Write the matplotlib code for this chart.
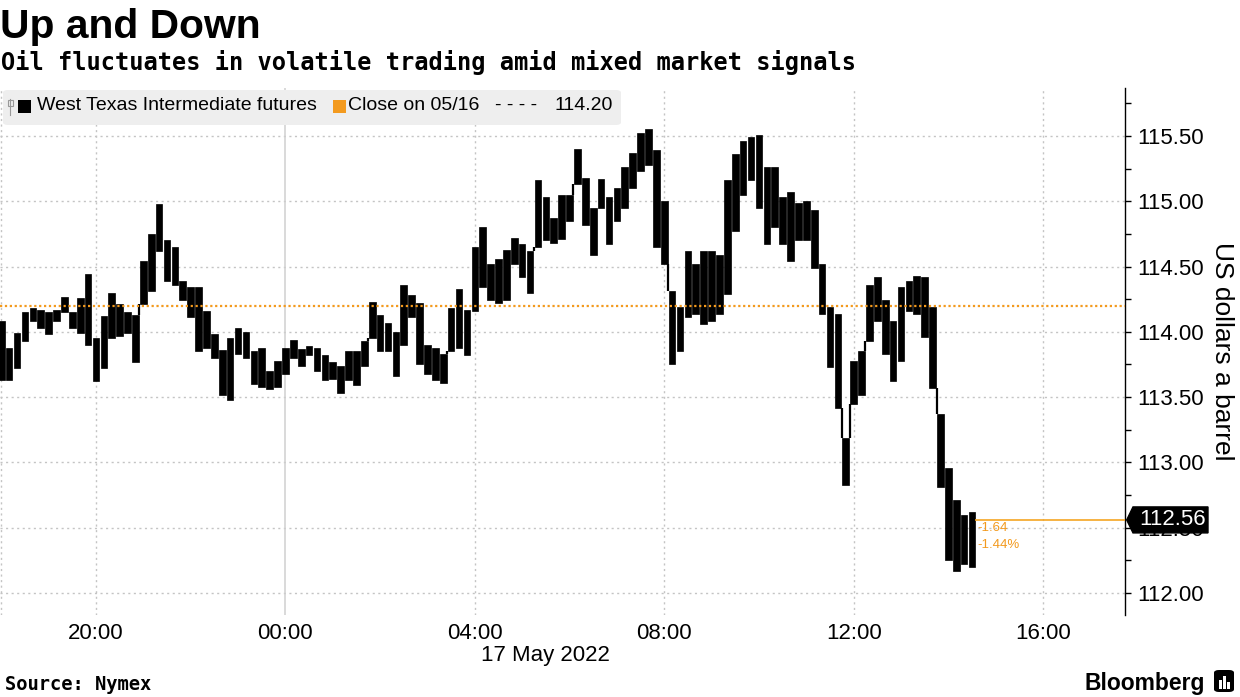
import matplotlib
matplotlib.use("Agg")
import matplotlib.pyplot as plt
import matplotlib.transforms as mtransforms
from matplotlib.patches import Polygon, FancyBboxPatch, Rectangle
import numpy as np

# ---------------- data (10-minute bars starting 18:00 on 16 May) ----------------
bar_highs = [114.08, 113.88, 113.99, 114.15, 114.18, 114.17, 114.15, 114.17, 114.27, 114.15,
             114.26, 114.44, 113.95, 114.12, 114.30, 114.21, 114.15, 114.13, 114.54, 114.75,
             114.98, 114.70, 114.65, 114.39, 114.34, 114.34, 114.16, 113.98, 113.86, 113.95,
             114.03, 114.00, 113.85, 113.88, 113.70, 113.78, 113.88, 113.94, 113.87, 113.89,
             113.88, 113.82, 113.77, 113.74, 113.85, 113.85, 113.93, 114.23, 114.13, 114.07,
             114.00, 114.36, 114.28, 114.22, 113.90, 113.88, 113.83, 114.18, 114.33, 114.17,
             114.65, 114.80, 114.52, 114.56, 114.63, 114.72, 114.67, 114.62, 115.16, 115.03,
             114.87, 115.05, 115.05, 115.40, 115.18, 114.95, 115.17, 115.03, 115.10, 115.26,
             115.37, 115.52, 115.55, 115.39, 115.00, 114.31, 114.19, 114.62, 114.52, 114.62,
             114.62, 114.59, 115.16, 115.36, 115.46, 115.49, 115.51, 115.26, 115.26, 115.03,
             115.07, 114.99, 115.00, 114.93, 114.52, 114.19, 114.14, 113.19, 113.78, 113.85,
             114.36, 114.42, 114.24, 114.08, 114.34, 114.39, 114.43, 114.42, 114.19, 113.37,
             112.96, 112.71, 112.60, 112.62]
bar_lows = [113.63, 113.63, 113.72, 113.93, 114.08, 114.03, 113.98, 114.08, 114.15, 114.03,
            113.99, 113.90, 113.62, 113.72, 113.95, 113.97, 113.99, 113.77, 114.21, 114.31,
            114.62, 114.39, 114.36, 114.24, 114.11, 113.85, 113.88, 113.80, 113.52, 113.48,
            113.83, 113.80, 113.60, 113.58, 113.56, 113.58, 113.68, 113.80, 113.74, 113.82,
            113.70, 113.63, 113.64, 113.53, 113.63, 113.59, 113.74, 113.95, 113.85, 113.85,
            113.66, 113.90, 114.11, 113.75, 113.68, 113.63, 113.61, 113.85, 113.88, 113.82,
            114.16, 114.34, 114.24, 114.22, 114.24, 114.52, 114.42, 114.30, 114.65, 114.70,
            114.68, 114.71, 114.85, 115.13, 114.82, 114.59, 114.95, 114.67, 114.85, 114.95,
            115.10, 115.23, 115.28, 114.65, 114.52, 113.75, 113.85, 114.11, 114.14, 114.06,
            114.08, 114.14, 114.29, 114.77, 115.05, 115.16, 114.95, 114.67, 114.80, 114.67,
            114.54, 114.70, 114.70, 114.49, 114.14, 113.73, 113.42, 112.83, 113.45, 113.52,
            113.93, 114.08, 113.83, 113.62, 113.78, 114.16, 114.14, 113.96, 113.57, 112.81,
            112.25, 112.17, 112.22, 112.20]
bar_minutes = 10          # bar interval
last_price = 112.56
prev_close = 114.20
prev_close_date = "05/16"
series_label = "West Texas Intermediate futures"
y_ticks = [112.0, 112.5, 113.0, 113.5, 114.0, 114.5, 115.0, 115.5]
x_tick_hours = [2, 6, 10, 14, 18, 22]     # hours after 18:00 on 16 May
x_tick_labels = ["20:00", "00:00", "04:00", "08:00", "12:00", "16:00"]
date_label = "17 May 2022"

# ---------------- styling ----------------
SANS = ["Liberation Sans", "DejaVu Sans"]
MONO = ["DejaVu Sans Mono"]
ORANGE = "#F39A1E"
GRID = "#c4c4c4"

W, H = 1240, 697
fig = plt.figure(figsize=(W / 100, H / 100), dpi=100)
fx = lambda px: px / W
fy = lambda py: 1 - py / H

ax = fig.add_axes([0, fy(615), fx(1125), fy(88) - fy(615)])
ax.set_facecolor("white")

n = len(bar_highs)
dt = bar_minutes / 60.0
t = np.arange(n) * dt
t_last = t[-1]
XMAX = 23.73

# grid
for yv in y_ticks:
    ax.axhline(yv, color=GRID, lw=1.0, ls=(0, (1.5, 2.5)), zorder=0)
for xv in x_tick_hours:
    if xv == 6:
        ax.axvline(xv, color="#cfcfcf", lw=1.1, zorder=0)
    else:
        ax.axvline(xv, color=GRID, lw=1.0, ls=(0, (1.5, 2.5)), zorder=0)
ax.axvline(0.0, color=GRID, lw=1.0, ls=(0, (1.5, 2.5)), zorder=0)

# price bars: high-low blocks
lows = np.array(bar_lows)
highs = np.array(bar_highs)
ax.bar(t, highs - lows, bottom=lows, width=dt * 0.84, color="black",
       edgecolor="black", linewidth=0.5, zorder=2)
# bridge gaps between consecutive bars whose ranges do not overlap
for i in range(n - 1):
    if lows[i + 1] > highs[i]:
        y0, y1 = highs[i], lows[i + 1]
    elif highs[i + 1] < lows[i]:
        y0, y1 = highs[i + 1], lows[i]
    else:
        continue
    xm = t[i] + dt / 2
    ax.plot([xm, xm], [y0, y1], color="black", lw=1.6, zorder=2,
            solid_capstyle="butt")

# previous close line
ax.axhline(prev_close, color=ORANGE, lw=1.6, ls=(0, (1, 1.2)), zorder=3)

# last price line and change labels
ax.hlines(last_price, t_last + 0.07, XMAX, color="#F5A623", lw=1.2, zorder=3)
chg = last_price - prev_close
pct = chg / prev_close * 100
ax.text(t_last + 0.12, last_price - 0.06, f"-{abs(chg):.2f}", color=ORANGE,
        fontsize=9.5, family=SANS, va="center", ha="left", zorder=4)
ax.text(t_last + 0.12, last_price - 0.195, f"-{abs(pct):.2f}%", color=ORANGE,
        fontsize=9.5, family=SANS, va="center", ha="left", zorder=4)

# axes
for s in ["top", "left", "bottom"]:
    ax.spines[s].set_visible(False)
ax.spines["right"].set_color("black")
ax.spines["right"].set_linewidth(1.0)
ax.yaxis.tick_right()
ax.set_yticks(y_ticks)
ax.set_yticklabels([f"{v:.2f}" for v in y_ticks], family=SANS)
ax.set_yticks(np.arange(112.0, 115.8, 0.25), minor=True)
ax.tick_params(axis="y", which="major", direction="out", length=4, width=1,
               labelsize=16, pad=5, colors="black")
ax.tick_params(axis="y", which="minor", direction="out", length=4, width=1)
ax.set_xticks(x_tick_hours)
ax.set_xticklabels(x_tick_labels, family=SANS)
ax.tick_params(axis="x", length=0, labelsize=16, pad=6)
ax.set_xlim(-0.027, XMAX)
ax.set_ylim(111.832, 115.867)

ax.yaxis.set_label_position("right")
ax.set_ylabel("US dollars a barrel", family=SANS, fontsize=19, rotation=270,
              va="center", ha="center")
ax.yaxis.set_label_coords(1222 / 1125, (615 - 351) / 527)

# price tag
tr = mtransforms.blended_transform_factory(ax.transAxes, ax.transData)
a1 = 1.0 + 8 / 1125
a2 = 1.0 + (1208 - 1125) / 1125
hh = 13 / 130.6
tag = Polygon([(1.0015, last_price), (a1, last_price + hh), (a2, last_price + hh),
               (a2, last_price - hh), (a1, last_price - hh)],
              closed=True, transform=tr, facecolor="black", edgecolor="black",
              clip_on=False, zorder=10)
ax.add_patch(tag)
ax.text((a1 + a2) / 2 + 0.002, last_price, f"{last_price:.2f}", transform=tr,
        color="white", fontsize=16, family=SANS, ha="center", va="center",
        zorder=11, clip_on=False)

# date label
fig.text(fx(545), fy(656), date_label, family=SANS, fontsize=16, ha="center", va="center")

# titles
fig.text(fx(0), fy(38), "Up and Down", family=SANS, fontweight="bold", fontsize=29.3,
         ha="left", va="baseline")
fig.text(fx(1), fy(70), "Oil fluctuates in volatile trading amid mixed market signals",
         family=MONO, fontweight="bold", fontsize=17, ha="left", va="baseline")

# legend
leg_bg = FancyBboxPatch((fx(3), fy(125)), fx(621) - fx(3), fy(90) - fy(125),
                        boxstyle="round,pad=0,rounding_size=0.004",
                        transform=fig.transFigure, facecolor="#eeeeee",
                        edgecolor="none", zorder=5)
fig.patches.append(leg_bg)
# tiny bar glyph
fig.lines.append(plt.Line2D([fx(10), fx(10)], [fy(99), fy(115)], transform=fig.transFigure,
                            color="#999999", lw=0.8, zorder=6))
fig.patches.append(Rectangle((fx(7.5), fy(106)), fx(5), fy(100) - fy(106), transform=fig.transFigure,
                             facecolor="none", edgecolor="#999999", lw=0.8, zorder=6))
fig.patches.append(Rectangle((fx(18), fy(113)), fx(13), fy(100) - fy(113),
                             transform=fig.transFigure, facecolor="black", zorder=6))
fig.text(fx(37), fy(106), series_label, family=SANS, fontsize=14, ha="left",
         va="center", zorder=7)
fig.patches.append(Rectangle((fx(333), fy(113)), fx(13), fy(100) - fy(113),
                             transform=fig.transFigure, facecolor=ORANGE, zorder=6))
fig.text(fx(348), fy(106), f"Close on {prev_close_date}", family=SANS, fontsize=14,
         ha="left", va="center", zorder=7)
fig.text(fx(516), fy(106), "- - - -", family=SANS, fontsize=14, ha="center",
         va="center", zorder=7)
fig.text(fx(613), fy(106), f"{prev_close:.2f}", family=SANS, fontsize=14, ha="right",
         va="center", zorder=7)

# footer
fig.text(fx(5), fy(690), "Source: Nymex", family=MONO, fontweight="bold", fontsize=13.5,
         ha="left", va="baseline")
fig.text(fx(1205), fy(690), "Bloomberg", family=SANS, fontweight="bold", fontsize=16.5,
         ha="right", va="baseline")
logo = FancyBboxPatch((fx(1214), fy(692)), fx(20), fy(670) - fy(692),
                      boxstyle="round,pad=0,rounding_size=0.004",
                      transform=fig.transFigure, facecolor="black", edgecolor="none")
fig.patches.append(logo)
for bx, top in [(1219, 680), (1223, 676), (1227, 682)]:
    fig.patches.append(Rectangle((fx(bx), fy(689)), fx(2.5), fy(top) - fy(689),
                                 transform=fig.transFigure, facecolor="white",
                                 edgecolor="none"))

fig.savefig("out.png", dpi=100, facecolor="white")
